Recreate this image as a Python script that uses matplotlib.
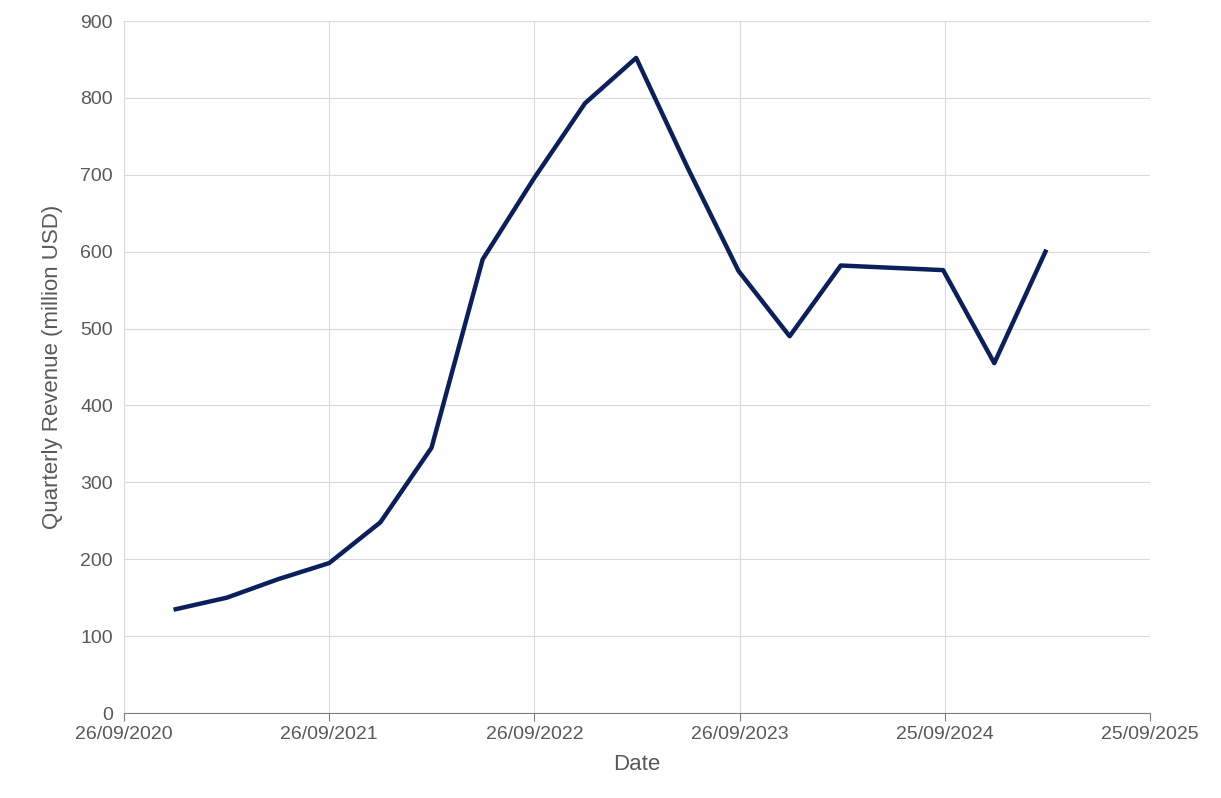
import matplotlib
matplotlib.use("Agg")
import matplotlib.pyplot as plt
import matplotlib.dates as mdates
import pandas as pd

dates = pd.to_datetime(["2020-12-27","2021-03-28","2021-06-27","2021-09-26","2021-12-26","2022-03-27",
    "2022-06-26","2022-09-25","2022-12-25","2023-03-26","2023-06-25","2023-09-24","2023-12-24",
    "2024-03-24","2024-06-23","2024-09-22","2024-12-22","2025-03-23"])
revenue = [135,150,174,195,248,345,590,695,793,852,710,575,490,582,579,576,455,600]
tick_dates = pd.to_datetime(["2020-09-26","2021-09-26","2022-09-26","2023-09-26","2024-09-25","2025-09-25"])

plt.rcParams['font.family'] = ['Liberation Sans', 'DejaVu Sans']
fig = plt.figure(figsize=(12.21, 7.98), dpi=100)
ax = fig.add_axes([124/1221, 1-713/798, (1150-124)/1221, (713-21)/798])
ax.plot(dates, revenue, color='#0a1f5c', lw=3.2, solid_joinstyle='round')
ax.set_xlim(tick_dates[0], tick_dates[-1])
ax.set_ylim(0, 900)
ax.set_yticks(range(0, 901, 100))
ax.set_xticks(tick_dates)
ax.xaxis.set_major_formatter(mdates.DateFormatter("%d/%m/%Y"))
ax.grid(True, color='#d9d9d9', lw=0.8)
ax.set_axisbelow(True)
for s in ['top', 'right', 'left']:
    ax.spines[s].set_visible(False)
ax.spines['bottom'].set_color('#7f7f7f')
ax.tick_params(axis='y', length=0, labelsize=14, colors='#595959', pad=8)
ax.tick_params(axis='x', length=6, direction='out', color='#7f7f7f', labelsize=14, colors='#595959')
ax.set_xlabel("Date", fontsize=16, color='#595959', labelpad=8)
ax.set_ylabel("Quarterly Revenue (million USD)", fontsize=16, color='#595959', labelpad=12)
fig.savefig("out.png", dpi=100)
